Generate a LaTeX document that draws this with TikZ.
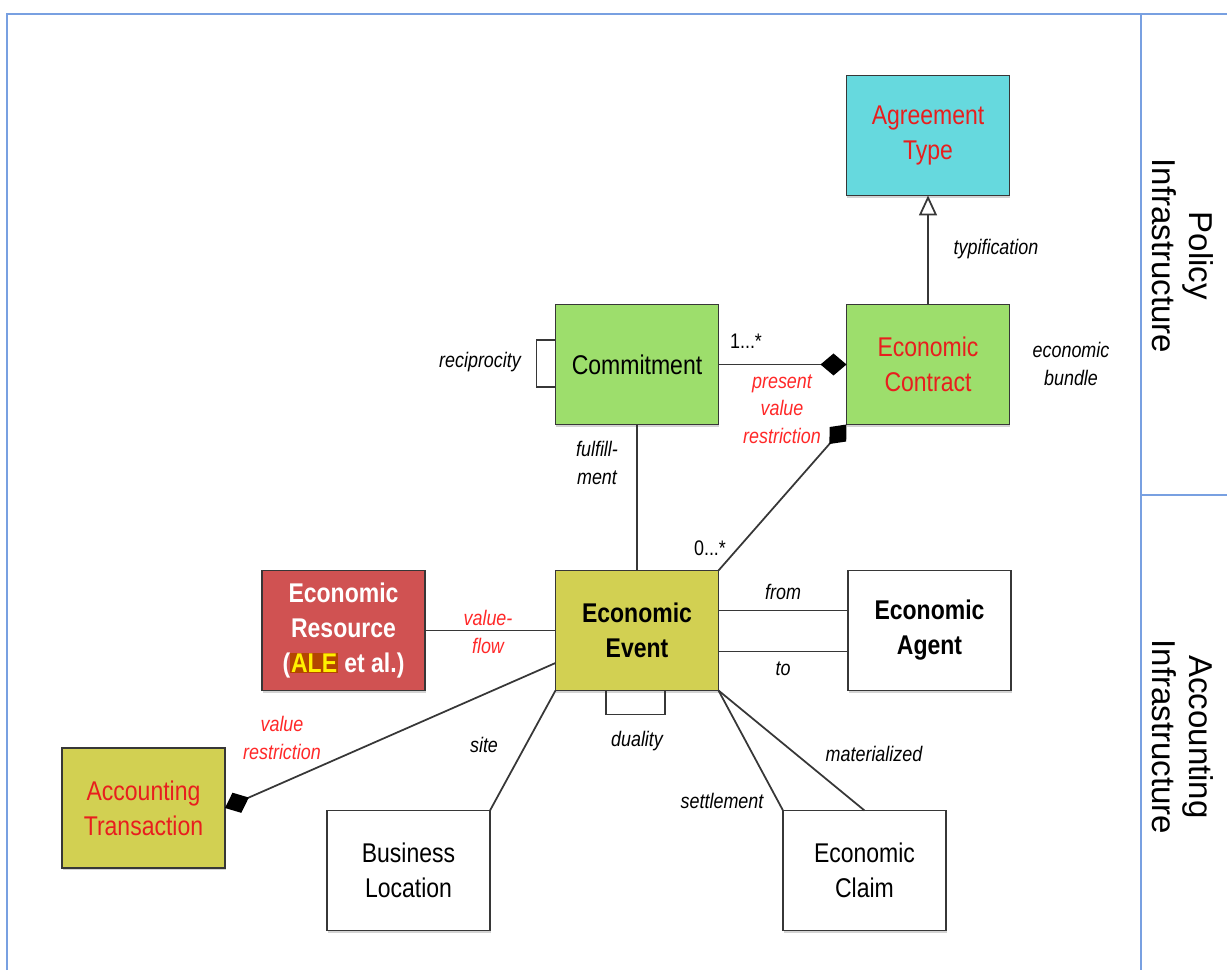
\documentclass[tikz,border=0pt]{standalone}
\usepackage{fontspec}
\setmainfont{Liberation Sans}[FakeStretch=0.85]
\newfontfamily\sidefont{Liberation Sans}
\usetikzlibrary{arrows.meta,shadows}
\definecolor{framblue}{RGB}{120,160,225}
\definecolor{linegray}{RGB}{55,55,55}
\definecolor{boxgreen}{RGB}{157,222,108}
\definecolor{boxcyan}{RGB}{102,217,222}
\definecolor{boxolive}{RGB}{210,208,82}
\definecolor{boxred}{RGB}{208,82,82}
\definecolor{txtred}{RGB}{232,30,30}
\definecolor{lblred}{RGB}{255,40,40}
\definecolor{alebg}{RGB}{180,70,0}
\definecolor{aleyellow}{RGB}{255,240,0}
\tikzset{
    classbox/.style = {draw = linegray, line width = 1.1pt, minimum width = 3.26cm,
        minimum height = 2.4cm, inner sep = 0pt, outer sep = 0pt, align = center,
        font = \fontsize{15.4pt}{19.9pt}\selectfont,
        drop shadow = {shadow xshift = 0.3pt, shadow yshift = -1.2pt, opacity = 0.35}},
    assoc/.style = {draw = linegray, line width = 1pt},
    rolelbl/.style = {align = center, font = \fontsize{12pt}{15.6pt}\selectfont\itshape},
    redlbl/.style = {rolelbl, text = lblred},
    whole/.style = {assoc, -{Diamond[length = 0.52cm, width = 0.44cm, color = black]}},
    typeof/.style = {assoc, -{Triangle[open, length = 0.4cm, width = 0.36cm, fill = white]}}
}
\begin{document}
\begin{tikzpicture}
    \useasboundingbox (0,0) rectangle (24.54,19.4);
    % swimlane frame
    \begin{scope}[draw = framblue, line width = 1.1pt]
        \draw (0.14,0) -- (0.14,19.12) -- (24.54,19.12);
        \draw (22.82,19.12) -- (22.82,0);
        \draw (22.82,9.5) -- (24.54,9.5);
    \end{scope}
    \begin{scope}[every node/.append style = {rotate = -90, align = center,
            font = \sidefont\fontsize{18.8pt}{21pt}\selectfont}]
        \node (policy) at (23.66,14.28) {Policy\\Infrastructure};
        \node (accounting) at (23.66,4.66) {Accounting\\Infrastructure};
    \end{scope}
    % classes
    \node[classbox, fill = boxcyan, text = txtred] (agreetype) at (18.56,16.69) {Agreement\\Type};
    \node[classbox, fill = boxgreen] (commit) at (12.74,12.11) {Commitment};
    \node[classbox, fill = boxgreen, text = txtred] (contract) at (18.56,12.11) {Economic\\Contract};
    \node[classbox, fill = boxolive, font = \fontsize{15.4pt}{19.9pt}\selectfont\bfseries] (event) at (12.74,6.79) {Economic\\Event};
    \node[classbox, fill = boxred, text = white, font = \fontsize{15.4pt}{19.9pt}\selectfont\bfseries] (resource) at (6.87,6.79)
        {Economic\\Resource\\({\setlength{\fboxsep}{0.5pt}\colorbox{alebg}{\textcolor{aleyellow}{ALE}}} et al.)};
    \node[classbox, fill = white, font = \fontsize{15.4pt}{19.9pt}\selectfont\bfseries] (agent) at (18.59,6.79) {Economic\\Agent};
    \node[classbox, fill = boxolive, text = txtred] (transaction) at (2.87,3.24) {Accounting\\Transaction};
    \node[classbox, fill = white] (location) at (8.17,1.99) {Business\\Location};
    \node[classbox, fill = white] (claim) at (17.29,1.99) {Economic\\Claim};
    % associations
    \draw[typeof] (contract) -- (agreetype);
    \draw[whole] (commit) -- (contract);
    \draw[whole] (event.north east) -- (contract.south west);
    \draw[assoc] (commit) -- (event);
    \draw[assoc] ([yshift = 0.49cm]commit.west) -- ++(-0.38,0) |- ([yshift = -0.45cm]commit.west);
    \draw[assoc] ([xshift = -0.62cm]event.south) -- ++(0,-0.48) -| ([xshift = 0.56cm]event.south);
    \draw[assoc] (resource) -- (event);
    \draw[assoc] ([yshift = 0.4cm]event.east) -- ([yshift = 0.4cm]agent.west);
    \draw[assoc] ([yshift = -0.42cm]event.east) -- ([yshift = -0.42cm]agent.west);
    \draw[whole] ([yshift = -0.65cm]event.west) -- (transaction.east);
    \draw[assoc] (event.south west) -- (location.north east);
    \draw[assoc] (event.south east) -- (claim.north west);
    \draw[assoc] (event.south east) -- (claim.north);
    % role names
    \node[rolelbl] (typlbl) at (19.92,14.42) {typification};
    \node[rolelbl] (bundlelbl) at (21.42,12.12) {economic\\bundle};
    \node[rolelbl, font = \fontsize{12pt}{15.6pt}\selectfont] (onemany) at (14.92,12.58) {1...*};
    \node[redlbl] (pvrlbl) at (15.64,11.22) {present\\value\\restriction};
    \node[rolelbl] (reciplbl) at (9.6,12.16) {reciprocity};
    \node[rolelbl] (fulfillbl) at (11.94,10.14) {fulfill-\\ment};
    \node[rolelbl, font = \fontsize{12pt}{15.6pt}\selectfont] (zeromany) at (14.2,8.44) {0...*};
    \node[redlbl] (flowlbl) at (9.76,6.76) {value-\\flow};
    \node[rolelbl] (fromlbl) at (15.66,7.56) {from};
    \node[rolelbl] (tolbl) at (15.66,6.02) {to};
    \node[redlbl] (vrlbl) at (5.64,4.64) {value\\restriction};
    \node[rolelbl] (sitelbl) at (9.68,4.5) {site};
    \node[rolelbl] (dualitylbl) at (12.74,4.58) {duality};
    \node[rolelbl] (matlbl) at (17.48,4.32) {materialized};
    \node[rolelbl] (settlelbl) at (14.44,3.38) {settlement};
\end{tikzpicture}
\end{document}
